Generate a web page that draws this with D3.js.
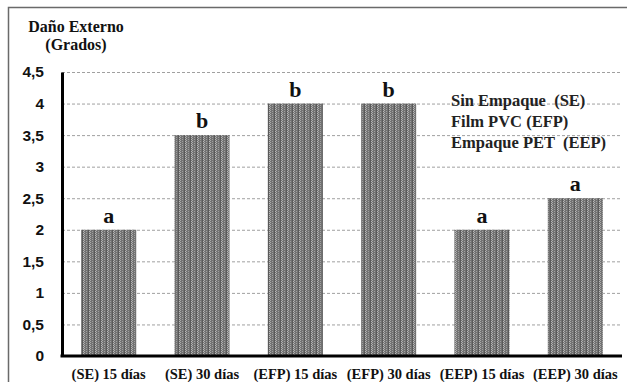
<!DOCTYPE html>
<html>
<head>
<meta charset="utf-8">
<script src="https://cdn.jsdelivr.net/npm/d3@7"></script>
<style>
  body { margin: 0; background: #fff; }
  svg { display: block; }
</style>
</head>
<body>
<svg id="chart" width="627" height="382"></svg>
<script>
// Tratamientos y daño externo medido (grados)
const categories = ["(SE) 15 días", "(SE) 30 días", "(EFP) 15 días", "(EFP) 30 días", "(EEP) 15 días", "(EEP) 30 días"];
const values = [2, 3.5, 4, 4, 2, 2.5];
const letters = ["a", "b", "b", "b", "a", "a"];
const yTicks = [0, 0.5, 1, 1.5, 2, 2.5, 3, 3.5, 4, 4.5];
const legendLines = ["Sin Empaque  (SE)", "Film PVC (EFP)", "Empaque PET  (EEP)"];
const titleLines = ["Daño Externo", "(Grados)"];

const svg = d3.select("#chart");
const serif = "'Liberation Serif', 'Times New Roman', serif";
const sans = "'Liberation Sans', Arial, sans-serif";

// Textura tramada de las barras
const defs = svg.append("defs");
const pat = defs.append("pattern")
  .attr("id", "trama").attr("patternUnits", "userSpaceOnUse")
  .attr("width", 6).attr("height", 2);
pat.append("rect").attr("width", 6).attr("height", 2).attr("fill", "#727272");
pat.append("rect").attr("x", 0).attr("y", 0).attr("width", 1).attr("height", 1).attr("fill", "#ababab");
pat.append("rect").attr("x", 2).attr("y", 1).attr("width", 1).attr("height", 1).attr("fill", "#9e9e9e");
pat.append("rect").attr("x", 4).attr("y", 0).attr("width", 1).attr("height", 2).attr("fill", "#595959");
pat.append("rect").attr("x", 5).attr("y", 1).attr("width", 1).attr("height", 1).attr("fill", "#b8b8b8");

// Marco exterior
svg.append("rect")
  .attr("x", 8.5).attr("y", 7.5).attr("width", 640).attr("height", 400)
  .attr("fill", "none").attr("stroke", "#6a6a6a").attr("stroke-width", 1.5);

const plotL = 62, plotR = 622, plotT = 72, plotB = 356;

const x = d3.scaleBand().domain(categories).range([plotL, plotR]).paddingInner(0.41).paddingOuter(0.205);
const y = d3.scaleLinear().domain([0, 4.5]).range([plotB, plotT]);

// Líneas de cuadrícula
svg.append("g").selectAll("line")
  .data(yTicks.filter(d => d > 0))
  .join("line")
  .attr("x1", plotL).attr("x2", plotR)
  .attr("y1", d => y(d) + 0.5).attr("y2", d => y(d) + 0.5)
  .attr("stroke", "#a0a0a0").attr("stroke-width", 1)
  .attr("stroke-dasharray", "3,2");

// Barras
svg.append("g").selectAll("rect")
  .data(values)
  .join("rect")
  .attr("x", (d, i) => x(categories[i]))
  .attr("width", x.bandwidth())
  .attr("y", d => y(d))
  .attr("height", d => y(0) - y(d))
  .attr("fill", "url(#trama)");

// Letras de significancia
svg.append("g").selectAll("text")
  .data(values)
  .join("text")
  .attr("x", (d, i) => x(categories[i]) + x.bandwidth() / 2)
  .attr("y", d => y(d) - 7)
  .attr("text-anchor", "middle")
  .attr("font-family", serif).attr("font-weight", "bold").attr("font-size", 22)
  .attr("fill", "#111")
  .text((d, i) => letters[i]);

// Eje Y
const yAxis = d3.axisLeft(y).tickValues(yTicks).tickSize(0).tickPadding(18)
  .tickFormat(d => String(d).replace(".", ","));
const gy = svg.append("g").attr("transform", `translate(${plotL},0)`).call(yAxis);
gy.select(".domain").attr("stroke", "#000").attr("stroke-width", 3);
gy.selectAll("text")
  .attr("font-family", sans).attr("font-weight", "bold").attr("font-size", 15.5).attr("fill", "#111");

// Eje X
const xAxis = d3.axisBottom(x).tickSize(0).tickPadding(10);
const gx = svg.append("g").attr("transform", `translate(0,${plotB})`).call(xAxis);
gx.select(".domain").attr("d", `M${plotL - 1.5},0H${plotR}`).attr("stroke", "#000").attr("stroke-width", 3);
gx.selectAll("text")
  .attr("font-family", serif).attr("font-weight", "bold").attr("font-size", 14.5).attr("fill", "#111")
  .attr("dy", "0.9em");

// Título del eje Y
svg.append("g").selectAll("text")
  .data(titleLines)
  .join("text")
  .attr("x", 76).attr("y", (d, i) => 32 + i * 18)
  .attr("text-anchor", "middle")
  .attr("font-family", serif).attr("font-weight", "bold").attr("font-size", 16)
  .attr("fill", "#111")
  .text(d => d);

// Leyenda
svg.append("g").selectAll("text")
  .data(legendLines)
  .join("text")
  .attr("x", 451).attr("y", (d, i) => 106 + i * 21)
  .attr("font-family", serif).attr("font-weight", "bold").attr("font-size", 16.5)
  .attr("fill", "#222")
  .attr("xml:space", "preserve")
  .style("white-space", "pre")
  .text(d => d);
</script>
</body>
</html>
